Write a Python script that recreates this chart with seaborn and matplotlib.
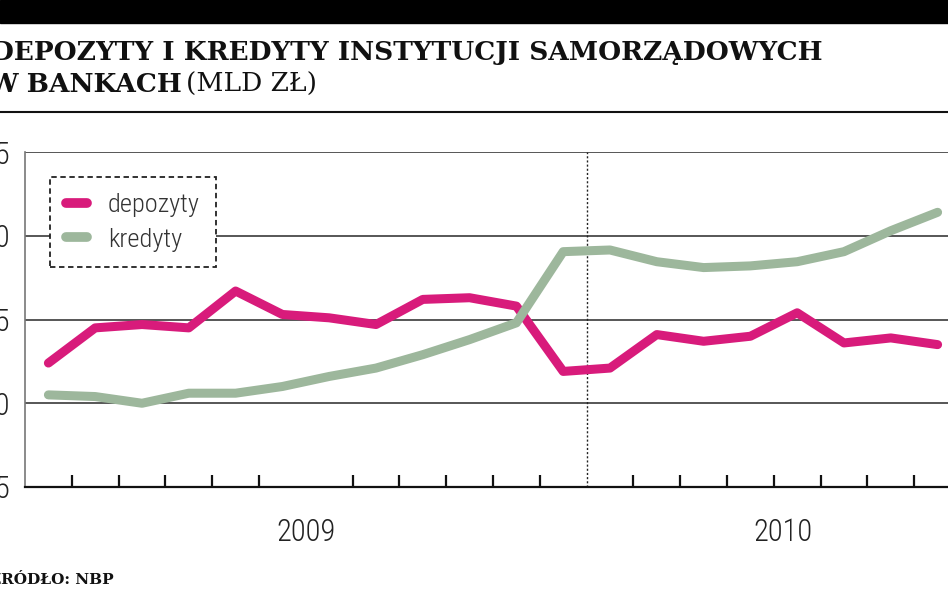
import matplotlib
matplotlib.use('Agg')
import matplotlib.pyplot as plt
import pandas as pd
import seaborn as sns
from matplotlib.patches import Rectangle
from matplotlib.lines import Line2D

# --- Data (mld zł), monthly Jan 2009 - Aug 2010 ---
months = ['I', 'II', 'III', 'IV', 'V', 'VI', 'VII', 'VIII', 'IX', 'X', 'XI', 'XII',
          'I', 'II', 'III', 'IV', 'V', 'VI', 'VII', 'VIII']
depozyty = [12.4, 14.5, 14.7, 14.5, 16.7, 15.3, 15.1, 14.7, 16.2, 16.3,
            15.8, 11.9, 12.1, 14.1, 13.7, 14.0, 15.4, 13.6, 13.9, 13.5]
kredyty = [10.5, 10.4, 10.0, 10.6, 10.6, 11.0, 11.6, 12.1, 12.9, 13.8,
           14.8, 19.05, 19.15, 18.45, 18.1, 18.2, 18.45, 19.05, 20.3, 21.4]
series_names = ['depozyty', 'kredyty']
year_labels = ['2009', '2010']
year_pos = [6.0, 16.2]
y_ticks = [5, 10, 15, 20, 25]

COLORS = {'depozyty': '#d81b7b', 'kredyty': '#9db79c'}
W, H = 948, 593

df = pd.DataFrame({
    'x': [i + 0.5 for i in range(len(months))] * 2,
    'value': depozyty + kredyty,
    'seria': ['depozyty'] * len(depozyty) + ['kredyty'] * len(kredyty),
})

sns.set_style('white')
# narrow sans for the chart body
plt.rcParams['font.family'] = ['Roboto Condensed', 'Roboto', 'DejaVu Sans']
plt.rcParams['font.weight'] = 'light'

fig = plt.figure(figsize=(W / 100, H / 100), dpi=100)
ax = fig.add_axes([25 / W, 1 - 487 / H, (W - 25) / W, (487 - 152) / H])

sns.lineplot(data=df, x='x', y='value', hue='seria', palette=COLORS, ax=ax,
             legend=False, linewidth=6.5, solid_capstyle='round',
             solid_joinstyle='round', zorder=3)

ax.set_xlim(0, (W - 25) / 46.8)
ax.set_ylim(5, 25)
ax.set_xlabel('')
ax.set_ylabel('')

# horizontal grid lines
for v in y_ticks[1:]:
    ax.axhline(v, color='#3a3a3a', lw=1.2, zorder=1)
# year boundary
ax.axvline(12, color='#222222', lw=1.0, ls=(0, (1.5, 1.5)), zorder=2)

ax.set_yticks(y_ticks)
ax.set_yticklabels([str(v) for v in y_ticks])
ax.tick_params(axis='y', length=0, pad=11, labelsize=22, labelcolor='#222222')

ax.set_xticks(year_pos)
ax.set_xticklabels(year_labels)
ax.set_xticks([i for i in range(1, 20) if i != 12], minor=True)
ax.tick_params(axis='x', which='major', length=0, pad=22, labelsize=22,
               labelcolor='#222222')
ax.tick_params(axis='x', which='minor', direction='in', length=9, width=1.6,
               color='#111111', bottom=True)

for side in ['top', 'right']:
    ax.spines[side].set_visible(False)
ax.spines['bottom'].set_color('#111111')
ax.spines['bottom'].set_linewidth(1.6)
ax.spines['left'].set_color('#777777')
ax.spines['left'].set_linewidth(1.2)

handles = [Line2D([], [], color=COLORS[n], lw=7, solid_capstyle='round') for n in series_names]
leg = ax.legend(handles, series_names, loc='upper left', bbox_to_anchor=(0.027, 0.925),
                borderaxespad=0, fontsize=19, handlelength=0.8, handletextpad=0.8,
                labelspacing=0.4, borderpad=0.6, fancybox=False, framealpha=1,
                labelcolor='#333333')
frame = leg.get_frame()
frame.set_edgecolor('#222222')
frame.set_linestyle((0, (3, 2)))
frame.set_linewidth(1.3)
leg.set_zorder(5)

# --- header / footer decorations ---
fig.patches.append(Rectangle((0, 1 - 23 / H), 1, 23 / H, transform=fig.transFigure,
                             color='black', zorder=0))
fig.add_artist(Line2D([0, 1], [1 - 112 / H] * 2, transform=fig.transFigure,
                      color='#111111', lw=1.5))

title_font = ['DejaVu Serif']
fig.text(-9 / W, 1 - 60 / H, 'DEPOZYTY I KREDYTY INSTYTUCJI SAMORZĄDOWYCH',
         family=title_font, fontweight='bold', fontsize=19, va='baseline', ha='left',
         color='#111111')
fig.text(-12 / W, 1 - 92 / H, 'W BANKACH', family=title_font, fontweight='bold',
         fontsize=19, va='baseline', ha='left', color='#111111')
fig.text(186 / W, 1 - 92 / H, '(MLD ZŁ)', family=title_font, fontweight='normal',
         fontsize=19, va='baseline', ha='left', color='#111111')
fig.text(-10 / W, 1 - 584 / H, 'ŹRÓDŁO: NBP', family=title_font, fontweight='bold',
         fontsize=11, va='baseline', ha='left', color='#111111')

fig.savefig('out.png', dpi=100)
